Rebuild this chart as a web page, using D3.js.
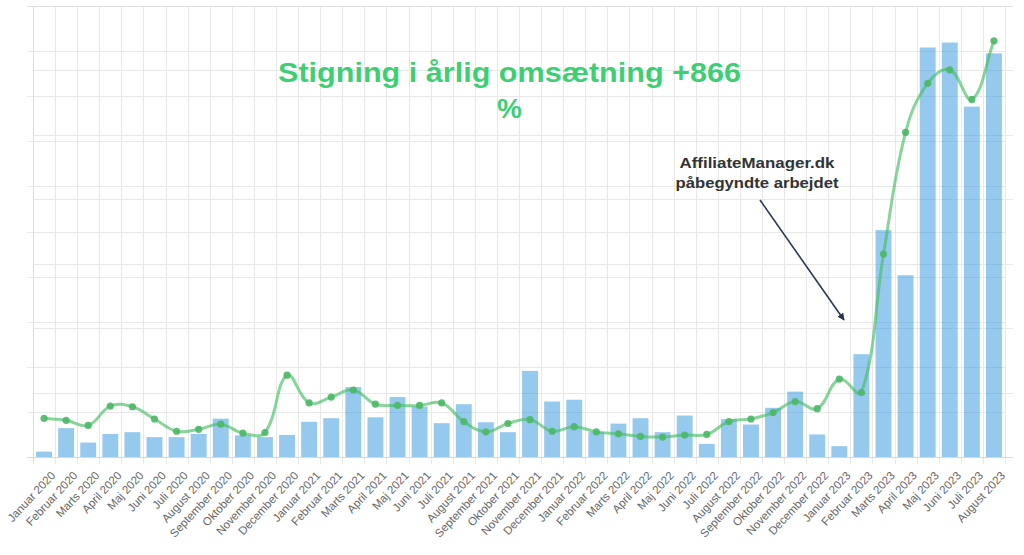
<!DOCTYPE html>
<html>
<head>
<meta charset="utf-8">
<script src="https://cdn.jsdelivr.net/npm/d3@7"></script>
<style>
  html, body { margin: 0; padding: 0; background: #fff; }
  svg { display: block; font-family: "Liberation Sans", Arial, Helvetica, sans-serif; }
</style>
</head>
<body>
<svg id="chart" width="1024" height="555"></svg>
<script>
// ---- Data ----
const months = ["Januar 2020","Februar 2020","Marts 2020","April 2020","Maj 2020","Juni 2020","Juli 2020","August 2020","September 2020","Oktober 2020","November 2020","December 2020",
  "Januar 2021","Februar 2021","Marts 2021","April 2021","Maj 2021","Juni 2021","Juli 2021","August 2021","September 2021","Oktober 2021","November 2021","December 2021",
  "Januar 2022","Februar 2022","Marts 2022","April 2022","Maj 2022","Juni 2022","Juli 2022","August 2022","September 2022","Oktober 2022","November 2022","December 2022",
  "Januar 2023","Februar 2023","Marts 2023","April 2023","Maj 2023","Juni 2023","Juli 2023","August 2023"];
const barValues = [12,64,32,51,55,44,44,51,85,48,44,49,
  78,86,155,88,133,112,75,117,77,55,191,123,
  127,55,74,86,55,92,29,84,72,109,145,50,
  24,228,503,403,908,919,777,895];
const lineValues = [60,57,49,79,78,59,40,43,51,37,38,127,
  84,93,104,82,80,80,84,55,39,52,58,40,
  47,39,36,32,31,34,35,55,59,69,86,75,
  121,100,315,504,580,601,555,646];
const barTicks = [0,100,200,300,400,500,600,700,800,900,1000];
const lineTicks = [0,100,200,300,400,500,600,700];
const titleLines = ["Stigning i årlig omsætning +866", "%"];
const noteLines = ["AffiliateManager.dk", "påbegyndte arbejdet"];

// ---- Layout ----
const svg = d3.select("#chart");
const PL = 33, PR = 1005, PT = 6, PB = 457;

const x = d3.scaleBand().domain(months).range([PL, PR]).padding(0);
const yBar = d3.scaleLinear().domain([0, 1000]).range([PB, PT]);
const yLine = d3.scaleLinear().domain([0, 700]).range([PB, PT]);

const grid = svg.append("g");
grid.selectAll("line.hb").data(barTicks).join("line")
  .attr("x1", 27).attr("x2", PR)
  .attr("y1", d => Math.round(yBar(d)) + 0.5).attr("y2", d => Math.round(yBar(d)) + 0.5)
  .attr("stroke", "#e8e8e8").attr("stroke-width", 1);
grid.selectAll("line.hl").data(lineTicks).join("line")
  .attr("x1", PL).attr("x2", 1013)
  .attr("y1", d => Math.round(yLine(d)) + 0.5).attr("y2", d => Math.round(yLine(d)) + 0.5)
  .attr("stroke", "#e8e8e8").attr("stroke-width", 1);
const bounds = months.map(m => x(m)).concat([PR]);
grid.selectAll("line.v").data(bounds).join("line")
  .attr("x1", d => Math.round(d) + 0.5).attr("x2", d => Math.round(d) + 0.5)
  .attr("y1", PT).attr("y2", PB + 7)
  .attr("stroke", (d, i) => i === 0 ? "#dcdcdc" : "#e8e8e8").attr("stroke-width", 1);
svg.append("line").attr("x1", 27).attr("x2", 1013).attr("y1", PT + 0.5).attr("y2", PT + 0.5)
  .attr("stroke", "#dedede");
svg.append("line").attr("x1", 27).attr("x2", 1013).attr("y1", PB + 0.5).attr("y2", PB + 0.5)
  .attr("stroke", "#d8d8d8");

// ---- Bars ----
const bw = x.bandwidth() * 0.72;
svg.append("g").selectAll("rect").data(months).join("rect")
  .attr("x", (d) => x(d) + (x.bandwidth() - bw) / 2)
  .attr("width", bw)
  .attr("y", (d, i) => yBar(barValues[i]))
  .attr("height", (d, i) => PB - yBar(barValues[i]))
  .attr("fill", "rgba(54,152,222,0.52)");

// ---- Line (Chart.js-like spline, tension 0.4) ----
const pts = months.map((m, i) => ({ x: x(m) + x.bandwidth() / 2, y: yLine(lineValues[i]) }));
const tension = 0.4;
pts.forEach((p, i) => {
  const prev = pts[i - 1] || p, next = pts[i + 1] || p;
  const d01 = Math.hypot(p.x - prev.x, p.y - prev.y);
  const d12 = Math.hypot(next.x - p.x, next.y - p.y);
  let s01 = d01 / (d01 + d12), s12 = d12 / (d01 + d12);
  if (!isFinite(s01)) s01 = 0; if (!isFinite(s12)) s12 = 0;
  const fa = tension * s01, fb = tension * s12;
  p.cp1x = p.x - fa * (next.x - prev.x); p.cp1y = p.y - fa * (next.y - prev.y);
  p.cp2x = p.x + fb * (next.x - prev.x); p.cp2y = p.y + fb * (next.y - prev.y);
  p.cp1y = Math.max(PT, Math.min(PB, p.cp1y));
  p.cp2y = Math.max(PT, Math.min(PB, p.cp2y));
});
const path = d3.path();
path.moveTo(pts[0].x, pts[0].y);
for (let i = 1; i < pts.length; i++) {
  const a = pts[i - 1], b = pts[i];
  path.bezierCurveTo(a.cp2x, a.cp2y, b.cp1x, b.cp1y, b.x, b.y);
}
svg.append("path").attr("d", path.toString())
  .attr("fill", "none").attr("stroke", "rgba(70,190,100,0.65)").attr("stroke-width", 3);
svg.append("g").selectAll("circle").data(pts).join("circle")
  .attr("cx", d => d.x).attr("cy", d => d.y).attr("r", 3.6)
  .attr("fill", "#4cb766").attr("fill-opacity", 0.9);

// ---- X axis labels ----
svg.append("g").selectAll("text").data(months).join("text")
  .attr("transform", d => `translate(${x(d) + x.bandwidth() / 2 + 12},${PB + 19}) rotate(-47)`)
  .attr("text-anchor", "end")
  .attr("font-size", 11.5)
  .attr("fill", "#666")
  .text(d => d);

// ---- Title ----
svg.append("g").selectAll("text").data(titleLines).join("text")
  .attr("x", 509.5).attr("y", (d, i) => 82 + i * 36)
  .attr("text-anchor", "middle")
  .attr("font-size", 28).attr("font-weight", "bold")
  .attr("fill", "#3ecf75")
  .attr("textLength", (d, i) => i === 0 ? 463 : null)
  .attr("lengthAdjust", "spacingAndGlyphs")
  .text(d => d);

// ---- Annotation ----
svg.append("g").selectAll("text").data(noteLines).join("text")
  .attr("x", 757).attr("y", (d, i) => 168 + i * 20)
  .attr("text-anchor", "middle")
  .attr("font-size", 15.5).attr("font-weight", "bold")
  .attr("fill", "#333")
  .attr("textLength", (d, i) => i === 0 ? 155 : 163)
  .attr("lengthAdjust", "spacingAndGlyphs")
  .text(d => d);
const defs = svg.append("defs");
defs.append("marker").attr("id", "arr").attr("viewBox", "0 0 10 10")
  .attr("refX", 9).attr("refY", 5).attr("markerWidth", 4.5).attr("markerHeight", 4.5)
  .attr("orient", "auto")
  .append("path").attr("d", "M0,0 L10,5 L0,10 z").attr("fill", "#253252");
svg.append("line").attr("x1", 760).attr("y1", 200).attr("x2", 844).attr("y2", 320)
  .attr("stroke", "#2c3858").attr("stroke-width", 1.6).attr("marker-end", "url(#arr)");
</script>
</body>
</html>
